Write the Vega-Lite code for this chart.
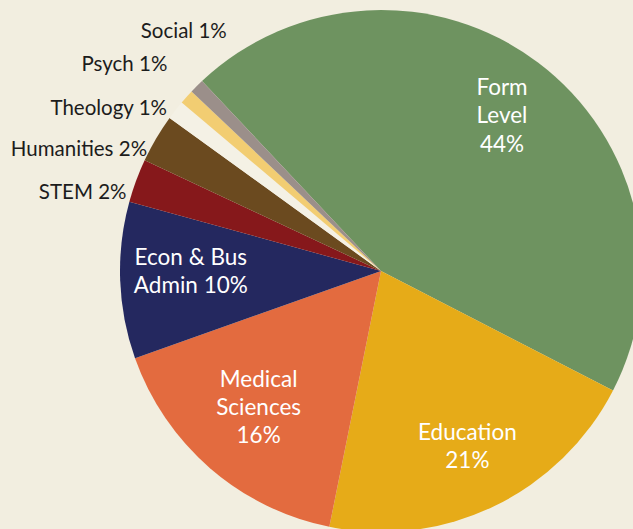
{
  "$schema": "https://vega.github.io/schema/vega-lite/v6.json",
  "width": 504,
  "height": 516,
  "autosize": "none",
  "padding": {"left": 129, "top": 13, "right": 0, "bottom": 0},
  "background": "#f2eee0",
  "view": {"stroke": null},
  "config": {"text": {"font": "Lato"}},
  "data": {
    "values": [
      {"category": "Form Level", "value": 44.6, "rank": 1, "label": "Form\nLevel\n44%"},
      {"category": "Education", "value": 20.6, "rank": 2, "label": "Education\n21%"},
      {"category": "Medical Sciences", "value": 16.4, "rank": 3, "label": "Medical\nSciences\n16%"},
      {"category": "Econ & Bus Admin", "value": 9.7, "rank": 4, "label": "Econ & Bus\nAdmin 10%"},
      {"category": "STEM", "value": 2.7, "rank": 5, "label": "STEM 2%"},
      {"category": "Humanities", "value": 3.0, "rank": 6, "label": "Humanities 2%"},
      {"category": "Theology", "value": 1.2, "rank": 7, "label": "Theology 1%"},
      {"category": "Psych", "value": 0.9, "rank": 8, "label": "Psych 1%"},
      {"category": "Social", "value": 0.9, "rank": 9, "label": "Social 1%"}
    ]
  },
  "encoding": {
    "theta": {"field": "value", "type": "quantitative", "stack": true, "scale": {"domain": [0, 100], "range": [5.5274, 11.8106]}},
    "order": {"field": "rank", "type": "quantitative"}
  },
  "layer": [
    {
      "mark": {"type": "arc", "outerRadius": 261},
      "encoding": {
        "color": {
          "field": "category",
          "type": "nominal",
          "legend": null,
          "scale": {
            "domain": ["Form Level", "Education", "Medical Sciences", "Econ & Bus Admin", "STEM", "Humanities", "Theology", "Psych", "Social"],
            "range": ["#6e9360", "#e6ab18", "#e36b3f", "#24285f", "#86181b", "#6b4a1f", "#f4f1e5", "#f2cd72", "#9b8f8a"]
          }
        }
      }
    },
    {
      "mark": {"type": "text", "radius": 190, "align": "center", "baseline": "middle", "fontSize": 22.5, "lineHeight": 28.3, "lineBreak": "\n", "color": "#ffffff", "dx": 6.7, "dy": -31.2},
      "encoding": {"text": {"condition": {"test": "datum.rank == 1", "field": "label"}, "value": ""}}
    },
    {
      "mark": {"type": "text", "radius": 190, "align": "center", "baseline": "middle", "fontSize": 22.5, "lineHeight": 28.3, "lineBreak": "\n", "color": "#ffffff", "dx": 4.1, "dy": -9.2},
      "encoding": {"text": {"condition": {"test": "datum.rank == 2", "field": "label"}, "value": ""}}
    },
    {
      "mark": {"type": "text", "radius": 190, "align": "center", "baseline": "middle", "fontSize": 22.5, "lineHeight": 28.3, "lineBreak": "\n", "color": "#ffffff", "dx": 2.1, "dy": -34.9},
      "encoding": {"text": {"condition": {"test": "datum.rank == 3", "field": "label"}, "value": ""}}
    },
    {
      "mark": {"type": "text", "radius": 190, "align": "center", "baseline": "middle", "fontSize": 22.5, "lineHeight": 28.3, "lineBreak": "\n", "color": "#ffffff", "dx": -0.3, "dy": -20},
      "encoding": {"text": {"condition": {"test": "datum.rank == 4", "field": "label"}, "value": ""}}
    },
    {
      "mark": {"type": "text", "radius": 268, "align": "right", "baseline": "middle", "fontSize": 20.5, "color": "#1c1c1c", "dx": -3, "dy": 15},
      "encoding": {"text": {"condition": {"test": "datum.rank == 5 || datum.rank == 6", "field": "label"}, "value": ""}}
    },
    {
      "mark": {"type": "text", "radius": 268, "align": "right", "baseline": "middle", "fontSize": 20.5, "color": "#1c1c1c", "dx": -3, "dy": 3},
      "encoding": {"text": {"condition": {"test": "datum.rank == 7", "field": "label"}, "value": ""}}
    },
    {
      "mark": {"type": "text", "radius": 268, "align": "right", "baseline": "middle", "fontSize": 20.5, "color": "#1c1c1c", "dx": -14, "dy": -27},
      "encoding": {"text": {"condition": {"test": "datum.rank == 8", "field": "label"}, "value": ""}}
    },
    {
      "mark": {"type": "text", "radius": 268, "align": "right", "baseline": "middle", "fontSize": 20.5, "color": "#1c1c1c", "dx": 35, "dy": -49},
      "encoding": {"text": {"condition": {"test": "datum.rank == 9", "field": "label"}, "value": ""}}
    }
  ]
}
